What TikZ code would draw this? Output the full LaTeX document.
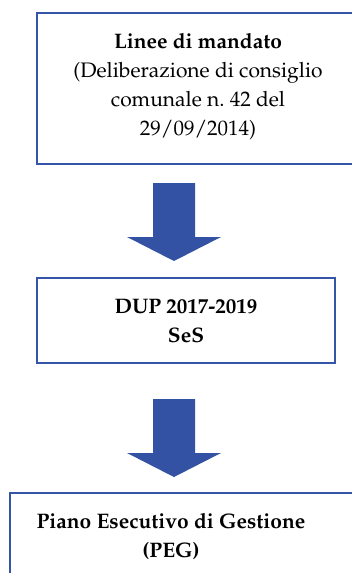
\documentclass[tikz,border=0pt]{standalone}
\usepackage[T1]{fontenc}
\usepackage{mathpazo}
\usepackage{tikz}

\definecolor{boxblue}{HTML}{3556A8}
\definecolor{arrowblue}{HTML}{3452A4}

\begin{document}
\begin{tikzpicture}[x=1pt,y=-1pt]
	\tikzset{box/.style={draw=boxblue, line width=2.5pt, fill=white, inner sep=0pt},
		txt/.style={align=center, font=\fontsize{21}{29}\selectfont, inner sep=0pt},
		downarrow/.pic={\fill[arrowblue] (-21,0) -- (21,0) -- (21,54) -- (47,54) -- (0,78) -- (-47,54) -- (-21,54) -- cycle;}}
	\useasboundingbox (0,0) rectangle (352,573);
	\clip (0,0) rectangle (352,573);

	\node[box, minimum width=322pt, minimum height=151pt] (mandato) at (198,88.5) {};
	\node[txt] (mandatotxt) at (198,87) {\textbf{Linee di mandato}\\(Deliberazione di consiglio\\comunale n.~42 del\\29/09/2014)};

	\pic at (174,183) {downarrow};

	\node[box, minimum width=298pt, minimum height=85pt] (dup) at (186,320.5) {};
	\node[txt, font=\fontsize{21}{29}\selectfont\bfseries] (duptxt) at (186,321) {DUP 2017-2019\\SeS};

	\pic at (174,399) {downarrow};

	\node[box, minimum width=380pt, minimum height=130pt] (peg) at (200,558) {};
	\node[txt, font=\fontsize{21}{29}\selectfont\bfseries] (pegtxt) at (171,537) {Piano Esecutivo di Gestione\\(PEG)};
\end{tikzpicture}
\end{document}
